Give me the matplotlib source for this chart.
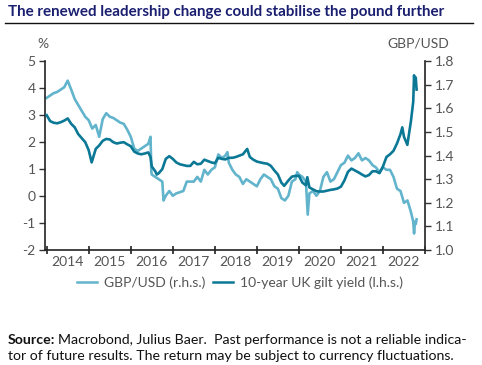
import matplotlib
matplotlib.use("Agg")
import matplotlib.pyplot as plt
from matplotlib.lines import Line2D

# ---- data (decimal years) ----
gilt_t = [2014.0, 2014.083, 2014.167, 2014.25, 2014.333, 2014.417, 2014.5, 2014.583, 2014.667, 2014.75,
          2014.833, 2014.917, 2015.0, 2015.07, 2015.167, 2015.25, 2015.333, 2015.417, 2015.5, 2015.583,
          2015.667, 2015.75, 2015.833, 2015.917, 2016.0, 2016.083, 2016.167, 2016.25, 2016.333, 2016.417,
          2016.47, 2016.5, 2016.583, 2016.62, 2016.667, 2016.75, 2016.833, 2016.917, 2017.0, 2017.083,
          2017.167, 2017.25, 2017.333, 2017.417, 2017.5, 2017.583, 2017.667, 2017.75, 2017.833, 2017.917,
          2018.0, 2018.083, 2018.167, 2018.25, 2018.333, 2018.417, 2018.5, 2018.583, 2018.667, 2018.77,
          2018.833, 2018.917, 2019.0, 2019.083, 2019.167, 2019.25, 2019.333, 2019.417, 2019.5, 2019.583,
          2019.65, 2019.75, 2019.833, 2019.917, 2020.0, 2020.083, 2020.167, 2020.2, 2020.25, 2020.333,
          2020.417, 2020.5, 2020.583, 2020.667, 2020.75, 2020.833, 2020.917, 2021.0, 2021.083, 2021.167,
          2021.25, 2021.333, 2021.417, 2021.5, 2021.583, 2021.667, 2021.75, 2021.833, 2021.917, 2022.0,
          2022.083, 2022.167, 2022.25, 2022.333, 2022.417, 2022.46, 2022.5, 2022.58, 2022.667, 2022.72,
          2022.74, 2022.76, 2022.78, 2022.80]
gilt_y = [3.00, 2.78, 2.72, 2.70, 2.74, 2.80, 2.88, 2.68, 2.55, 2.30,
          2.15, 2.00, 1.70, 1.25, 1.75, 1.88, 2.05, 2.12, 2.10, 2.00,
          1.95, 1.98, 2.00, 1.92, 1.85, 1.65, 1.58, 1.55, 1.58, 1.62,
          1.45, 1.10, 0.92, 0.80, 0.85, 1.00, 1.38, 1.48, 1.38, 1.25,
          1.18, 1.15, 1.12, 1.12, 1.27, 1.18, 1.20, 1.35, 1.30, 1.25,
          1.22, 1.42, 1.38, 1.36, 1.42, 1.42, 1.45, 1.50, 1.55, 1.75,
          1.45, 1.35, 1.28, 1.25, 1.22, 1.20, 1.12, 0.95, 0.80, 0.50,
          0.38, 0.58, 0.72, 0.75, 0.75, 0.50, 0.40, 0.70, 0.32, 0.25,
          0.18, 0.17, 0.17, 0.20, 0.23, 0.25, 0.28, 0.35, 0.58, 0.90,
          1.02, 0.95, 0.88, 0.80, 0.73, 0.78, 0.92, 0.92, 0.85, 1.10,
          1.45, 1.55, 1.68, 1.95, 2.30, 2.55, 2.20, 1.90, 2.80, 3.50,
          4.48, 4.10, 4.40, 3.95]

gbp_t = [2014.0, 2014.083, 2014.167, 2014.25, 2014.333, 2014.417, 2014.5, 2014.583, 2014.667, 2014.75,
         2014.833, 2014.917, 2015.0, 2015.083, 2015.167, 2015.25, 2015.333, 2015.417, 2015.5, 2015.583,
         2015.667, 2015.75, 2015.833, 2015.917, 2016.0, 2016.083, 2016.167, 2016.25, 2016.333, 2016.417,
         2016.47, 2016.49, 2016.5, 2016.583, 2016.667, 2016.75, 2016.78, 2016.833, 2016.917, 2017.0,
         2017.083, 2017.167, 2017.25, 2017.333, 2017.417, 2017.5, 2017.583, 2017.667, 2017.75, 2017.833,
         2017.917, 2018.0, 2018.083, 2018.167, 2018.25, 2018.3, 2018.333, 2018.417, 2018.5, 2018.583,
         2018.667, 2018.75, 2018.833, 2018.917, 2019.0, 2019.083, 2019.167, 2019.25, 2019.333, 2019.417,
         2019.5, 2019.583, 2019.667, 2019.75, 2019.833, 2019.917, 2019.96, 2020.0, 2020.083, 2020.167,
         2020.21, 2020.25, 2020.333, 2020.417, 2020.5, 2020.583, 2020.667, 2020.75, 2020.833, 2020.917,
         2021.0, 2021.083, 2021.167, 2021.25, 2021.333, 2021.417, 2021.5, 2021.583, 2021.667, 2021.75,
         2021.833, 2021.917, 2022.0, 2022.083, 2022.167, 2022.25, 2022.333, 2022.417, 2022.5, 2022.583,
         2022.667, 2022.72, 2022.74, 2022.76, 2022.78, 2022.80]
gbp_y = [1.645, 1.655, 1.665, 1.670, 1.680, 1.690, 1.718, 1.680, 1.640, 1.615,
         1.590, 1.565, 1.550, 1.515, 1.530, 1.480, 1.555, 1.580, 1.565, 1.560,
         1.550, 1.540, 1.535, 1.510, 1.480, 1.430, 1.420, 1.430, 1.440, 1.450,
         1.480, 1.330, 1.320, 1.310, 1.300, 1.290, 1.210, 1.230, 1.250, 1.230,
         1.240, 1.245, 1.250, 1.290, 1.290, 1.290, 1.310, 1.290, 1.340, 1.320,
         1.340, 1.350, 1.405, 1.390, 1.400, 1.415, 1.370, 1.340, 1.320, 1.310,
         1.280, 1.300, 1.290, 1.280, 1.270, 1.300, 1.320, 1.310, 1.300, 1.270,
         1.260, 1.220, 1.210, 1.230, 1.290, 1.300, 1.330, 1.320, 1.310, 1.290,
         1.150, 1.240, 1.250, 1.230, 1.250, 1.310, 1.330, 1.290, 1.300, 1.330,
         1.360, 1.370, 1.400, 1.380, 1.390, 1.410, 1.380, 1.390, 1.380, 1.360,
         1.350, 1.330, 1.350, 1.340, 1.340, 1.310, 1.260, 1.250, 1.200, 1.210,
         1.160, 1.120, 1.070, 1.120, 1.110, 1.130]

years = [2014, 2015, 2016, 2017, 2018, 2019, 2020, 2021, 2022]
left_ticks = [5, 4, 3, 2, 1, 0, -1, -2]
right_ticks = [1.8, 1.7, 1.6, 1.5, 1.4, 1.3, 1.2, 1.1, 1.0]

LIGHT = "#62b4cc"
DARK = "#0b7896"
GRAY = "#555555"
FONT = "Lato"

plt.rcParams['font.family'] = [FONT, 'DejaVu Sans']

fig = plt.figure(figsize=(4.82, 3.65), dpi=100)
ax = fig.add_axes([45.3 / 482, 1 - 250 / 365, (425 - 45.3) / 482, (250 - 61.3) / 365])
ax2 = ax.twinx()

ax.set_zorder(2)
ax.patch.set_visible(False)

ax2.plot(gbp_t, gbp_y, color=LIGHT, lw=1.9, zorder=1)
ax.plot(gilt_t, gilt_y, color=DARK, lw=1.9, zorder=3)

ax.set_xlim(2013.967, 2022.986)
ax.set_ylim(-2, 5)
ax2.set_ylim(1.0, 1.8)

ax.set_yticks(left_ticks)
ax.set_yticklabels([str(v) for v in left_ticks])
ax2.set_yticks(right_ticks)
ax2.set_yticklabels([f"{v:.1f}" for v in right_ticks])

ax.set_xticks(years + [2023], minor=False)
ax.set_xticklabels([])
ax.set_xticks([y + 0.5 for y in years], minor=True)
ax.set_xticklabels([str(y) for y in years], minor=True)
ax.tick_params(axis='x', which='major', direction='inout', length=6, width=1.3, color='#333333')
ax.tick_params(axis='x', which='minor', length=0, pad=4, labelsize=10, labelcolor=GRAY)
ax.tick_params(axis='y', direction='out', length=4, width=1.0, color='#333333', labelsize=10, labelcolor=GRAY, pad=3)
ax2.tick_params(axis='y', direction='out', length=4, width=1.0, color='#333333', labelsize=10, labelcolor=GRAY, pad=3)

for a in (ax, ax2):
    a.spines['top'].set_visible(False)
for s in ('left', 'bottom'):
    ax.spines[s].set_color('#222222')
    ax.spines[s].set_linewidth(1.2)
ax.spines['right'].set_visible(False)
ax2.spines['left'].set_visible(False)
ax2.spines['bottom'].set_visible(False)
ax2.spines['right'].set_color('#222222')
ax2.spines['right'].set_linewidth(1.2)

# unit labels
fig.text(43 / 482, 1 - 44 / 365, "%", ha='center', va='center', fontsize=10, color=GRAY)
fig.text(418 / 482, 1 - 44 / 365, "GBP/USD", ha='center', va='center', fontsize=10, color=GRAY)

# title
fig.text(8 / 482, 1 - 12 / 365, "The renewed leadership change could stabilise the pound further",
         ha='left', va='center', fontsize=10.9, fontweight='bold', color='#1a1f70')
fig.add_artist(Line2D([5 / 482, 473 / 482], [1 - 22.5 / 365, 1 - 22.5 / 365], color='#111111', lw=1.0))

# legend
handles = [Line2D([], [], color=LIGHT, lw=1.8), Line2D([], [], color=DARK, lw=1.8)]
leg = fig.legend(handles, ["GBP/USD (r.h.s.)", "10-year UK gilt yield (l.h.s.)"],
                 loc='center', bbox_to_anchor=(240 / 482, 1 - 283 / 365), ncol=2, frameon=False,
                 fontsize=10, handlelength=1.4, handletextpad=0.5, columnspacing=0.6, borderaxespad=0)
for t in leg.get_texts():
    t.set_color(GRAY)

# source
SRC_FS = 10.2
src1 = fig.text(8 / 482, 1 - 340 / 365, "Source:", ha='left', va='center', fontsize=SRC_FS,
                fontweight='bold', color='#111111')
fig.canvas.draw()
bb = src1.get_window_extent()
fig.text((bb.x1 + 2.5) / 482, 1 - 340 / 365,
         "Macrobond, Julius Baer.  Past performance is not a reliable indica-",
         ha='left', va='center', fontsize=SRC_FS, color='#111111')
fig.text(8 / 482, 1 - 356 / 365,
         "tor of future results. The return may be subject to currency fluctuations.",
         ha='left', va='center', fontsize=SRC_FS, color='#111111')

fig.savefig("out.png", dpi=100)
